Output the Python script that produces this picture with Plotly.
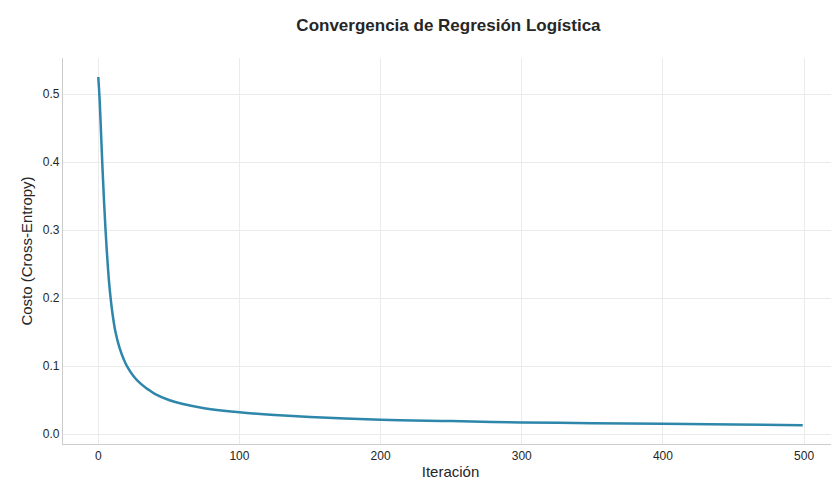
import plotly.graph_objects as go

# costo por iteración
iteraciones = [0, 1, 2, 3, 4, 5, 6, 7, 8, 10, 12, 15, 18, 20, 25, 30, 35, 40, 50, 60, 75,
               100, 125, 150, 200, 250, 300, 350, 400, 450, 499]
costo = [0.525, 0.49, 0.44, 0.39, 0.345, 0.305, 0.27, 0.24, 0.215, 0.178, 0.152, 0.127,
         0.11, 0.101, 0.085, 0.074, 0.066, 0.059, 0.05, 0.044, 0.038,
         0.032, 0.028, 0.025, 0.021, 0.019, 0.017, 0.016, 0.015, 0.014, 0.013]

fig = go.Figure()
fig.add_trace(go.Scatter(x=iteraciones, y=costo, mode='lines', line_shape='spline',
                         line=dict(color='#2e86ab', width=2.5), showlegend=False))

fig.update_layout(
    width=839, height=485,
    margin=dict(l=55, r=9, t=50, b=49, autoexpand=False),
    paper_bgcolor='white', plot_bgcolor='white',
    font=dict(family='Liberation Sans, Arial, sans-serif', size=12, color='#262626'),
    title=dict(text='<b>Convergencia de Regresión Logística</b>', x=0.525, y=0.965,
               xanchor='center', yanchor='middle', font=dict(size=17)),
)
fig.update_xaxes(title=dict(text='Iteración', font=dict(size=15), standoff=4),
                 range=[-25, 524], tickvals=[0, 100, 200, 300, 400, 500],
                 showgrid=True, gridcolor='#ebebeb', zeroline=False, automargin=False,
                 showline=True, linecolor='#cccccc', linewidth=1.2, ticks='')
fig.update_yaxes(title=dict(text='Costo (Cross-Entropy)', font=dict(size=15), standoff=6),
                 range=[-0.0147, 0.553], tickvals=[0, 0.1, 0.2, 0.3, 0.4, 0.5],
                 tickformat='.1f', automargin=False,
                 showgrid=True, gridcolor='#ebebeb', zeroline=False,
                 showline=True, linecolor='#cccccc', linewidth=1.2, ticks='')

fig.write_html("out.html")
